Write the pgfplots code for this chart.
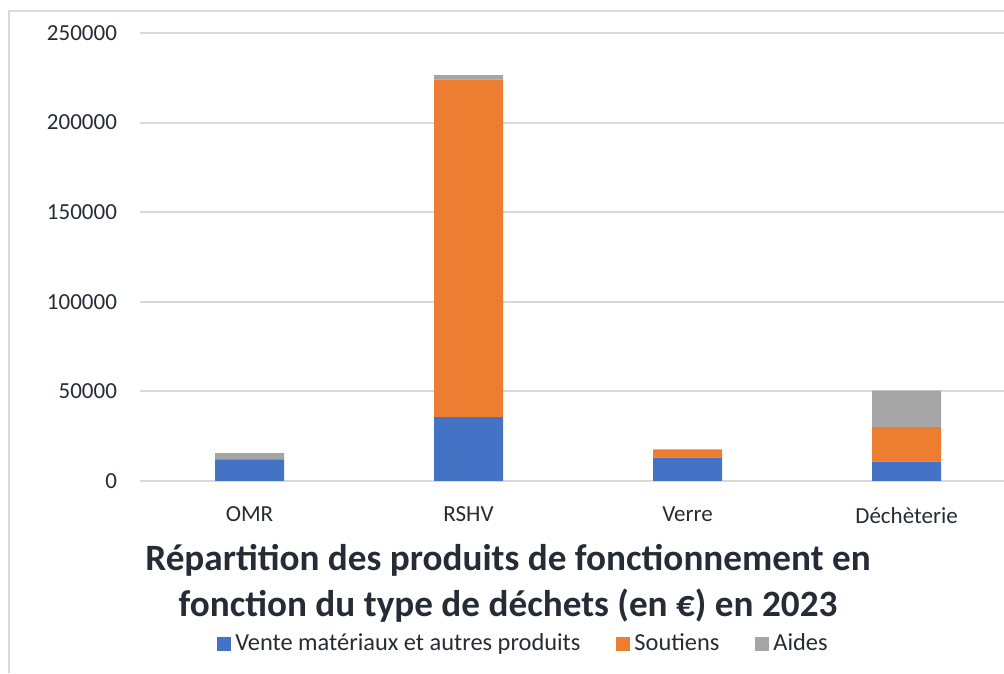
\documentclass[border=0pt]{standalone}
\usepackage{fontspec}
\setmainfont{Carlito}
\usepackage{pgfplots}
\pgfplotsset{compat=1.18}

\definecolor{cblue}{HTML}{4472C4}
\definecolor{corange}{HTML}{ED7D31}
\definecolor{cgray}{HTML}{A5A5A5}
\definecolor{gridgray}{HTML}{D9D9D9}
\definecolor{txt}{HTML}{262C36}

\begin{document}
\begin{tikzpicture}
\useasboundingbox (0pt,0pt) rectangle (502pt,336.5pt);
% cadre du graphique
\draw[gridgray, line width=1pt] (4.5pt,0pt) -- (4.5pt,331pt) -- (502pt,331pt);

\begin{axis}[
    at={(70pt,96pt)}, anchor=south west,
    scale only axis,
    width=432pt, height=224pt,
    ybar stacked,
    bar width=0.315,
    xmin=-0.5, xmax=3.445,
    ymin=0, ymax=250000,
    ytick={0,50000,100000,150000,200000,250000},
    yticklabels={0,50000,100000,150000,200000,250000},
    scaled y ticks=false,
    xtick={0,1,2,3},
    xticklabels={OMR, RSHV, Verre, Déchèterie},
    ymajorgrids,
    grid style={gridgray, line width=1pt},
    axis lines*=left,
    y axis line style={draw=none},
    x axis line style={gridgray, line width=1pt, -},
    major tick length=0pt,
    clip=false,
    ticklabel style={font=\fontsize{11.5}{13.8}\selectfont, text=txt},
    yticklabel style={xshift=-8pt},
    xticklabel style={yshift=-9.5pt},
    legend columns=3,
    legend style={
        at={(0.445,-0.363)}, anchor=center,
        draw=none, fill=none,
        font=\fontsize{12.2}{14.6}\selectfont, text=txt,
        /tikz/every even column/.append style={column sep=16pt}
    },
    legend image code/.code={\fill[#1] (0pt,-3.5pt) rectangle (7pt,3.5pt);},
]
\addplot[fill=cblue, draw=none] coordinates {(0,12000) (1,35700) (2,13000) (3,10800)};
\addlegendentry{Vente matériaux et autres produits}
\addplot[fill=corange, draw=none] coordinates {(0,0) (1,188300) (2,4700) (3,19200)};
\addlegendentry{Soutiens}
\addplot[fill=cgray, draw=none] coordinates {(0,3600) (1,2500) (2,0) (3,20400)};
\addlegendentry{Aides}
\end{axis}

\node[text=txt, font=\bfseries\fontsize{18.6}{23}\selectfont, align=center] at (254pt,45pt)
  {Répartition des produits de fonctionnement en\\fonction du type de déchets (en €) en 2023};
\end{tikzpicture}
\end{document}
